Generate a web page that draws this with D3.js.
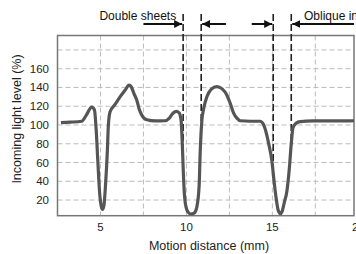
<!DOCTYPE html>
<html><head><meta charset="utf-8">
<script src="https://cdn.jsdelivr.net/npm/d3@7"></script>
<style>body{margin:0;background:#fff}svg{display:block}text{font-family:"Liberation Sans",Arial,sans-serif}</style>
</head><body><svg id="c" width="356" height="254"></svg>
<script>
// Data
const distance = [2.70,3.23,3.91,4.16,4.49,4.65,4.75,4.85,4.95,5.05,5.12,5.2,5.3,5.4,5.46,5.56,5.85,6.14,6.43,6.66,6.78,6.96,7.11,7.25,7.40,7.7,8.18,8.76,8.99,9.17,9.41,9.58,9.69,9.75,9.81,9.87,9.95,10.1,10.27,10.45,10.6,10.74,10.8,10.9,11.0,11.19,11.44,11.77,12.08,12.35,12.55,12.74,12.95,13.13,13.71,14.29,14.47,14.68,14.81,14.97,15.1,15.22,15.34,15.46,15.57,15.69,15.85,15.98,16.1,16.2,16.39,16.62,17.38,19.75];
const lightLevel = [102.5,103,104,110,119,116,95,60,28,13,10,14,38,72,100,114,122,130,137,142.5,141,133,126.7,117,110.7,105.5,104.3,104.5,107,111.5,114.5,113,105,85,55,30,15,7,5,6,12,35,70,105,117,130,138,141,138.5,132,123,113,107,104.5,104,104,101,89,78,62,40,22,9,5.5,8,17,30,52,80,97,102,103.5,104.3,104.5];
const markers = [9.81, 10.86, 15.05, 16.1];
const arrows = [[7.5,9.81],[12.3,10.86],[13.8,15.05],[19.75,16.1]];
const xTicks = [5,10,15,20];
const xGrid = [5,7.5,10,12.5,15,17.5];
const yTicks = [20,40,60,80,100,120,140,160];
const yGrid = [20,40,60,80,100,120,140,160,180];
const labels = {x:"Motion distance (mm)", y:"Incoming light level (%)", a1:"Double sheets", a2:"Oblique insertion"};

const L=57.5,R=354,T=35.5,B=215.7;
const x = d3.scaleLinear().domain([2.5,19.75]).range([L,R]);
const y = d3.scaleLinear().domain([3.3,195.4]).range([B,T]);
const svg = d3.select("#c");

// curve value at a distance (linear interpolation of the data)
const valueAt = m => {
  const i = d3.bisectLeft(distance, m);
  if (i <= 0) return lightLevel[0];
  if (i >= distance.length) return lightLevel[lightLevel.length-1];
  const t = (m - distance[i-1])/(distance[i]-distance[i-1]);
  return lightLevel[i-1] + t*(lightLevel[i]-lightLevel[i-1]);
};

svg.append("defs").append("clipPath").attr("id","clip").append("rect")
  .attr("x",L).attr("y",T).attr("width",R-L).attr("height",B-T);
const mk = svg.select("defs").append("marker").attr("id","ah")
  .attr("viewBox","0 0 10 10").attr("refX",10).attr("refY",5)
  .attr("markerWidth",4).attr("markerHeight",4).attr("orient","auto-start-reverse")
  .attr("markerUnits","strokeWidth");
mk.append("path").attr("d","M0,0L10,5L0,10Z").attr("fill","#111");

// grid
svg.append("g").selectAll("line").data(yGrid).join("line")
  .attr("x1",L).attr("x2",R).attr("y1",d=>y(d)).attr("y2",d=>y(d))
  .attr("stroke","#bbb").attr("stroke-width",1).attr("stroke-dasharray","5,3");
svg.append("g").selectAll("line").data(xGrid).join("line")
  .attr("y1",T).attr("y2",B).attr("x1",d=>x(d)).attr("x2",d=>x(d))
  .attr("stroke","#bbb").attr("stroke-width",1).attr("stroke-dasharray","5,3");

// frame
svg.append("rect").attr("x",L).attr("y",T).attr("width",R-L).attr("height",B-T)
  .attr("fill","none").attr("stroke","#777").attr("stroke-width",1.5);

// markers (down to where they meet the curve)
svg.append("g").selectAll("line").data(markers).join("line")
  .attr("x1",d=>x(d)).attr("x2",d=>x(d)).attr("y1",14).attr("y2",d=>y(valueAt(d)))
  .attr("stroke","#222").attr("stroke-width",1.6).attr("stroke-dasharray","7,3");

// arrows
svg.append("g").selectAll("line").data(arrows).join("line")
  .attr("x1",d=>x(d[0])).attr("x2",d=>x(d[1])-(d[1]>d[0]?1:-1)).attr("y1",24).attr("y2",24)
  .attr("stroke","#111").attr("stroke-width",2).attr("marker-end","url(#ah)");

// curve
svg.append("path").datum(distance.map((d,i)=>[d,lightLevel[i]]))
  .attr("clip-path","url(#clip)")
  .attr("d",d3.line().x(d=>x(d[0])).y(d=>y(d[1])).curve(d3.curveMonotoneX))
  .attr("fill","none").attr("stroke","#555").attr("stroke-width",3.2).attr("stroke-linejoin","round");

// tick labels
svg.append("g").selectAll("text").data(yTicks).join("text")
  .attr("x",L-8.5).attr("y",d=>y(d)).attr("dy","0.35em").attr("text-anchor","end")
  .attr("font-size",11.5).attr("fill","#222").text(d=>d);
svg.append("g").selectAll("text").data(xTicks).join("text")
  .attr("x",d=>x(d)).attr("y",231).attr("text-anchor","middle")
  .attr("font-size",11.5).attr("fill","#222").text(d=>d);

// titles
svg.append("text").attr("x",209).attr("y",249.5).attr("text-anchor","middle")
  .attr("font-size",12.5).attr("fill","#222").text(labels.x);
svg.append("text").attr("transform","translate(21,119) rotate(-90)").attr("text-anchor","middle")
  .attr("font-size",12.5).attr("fill","#222").text(labels.y);
svg.append("text").attr("x",x(9.81)-7).attr("y",20).attr("text-anchor","end")
  .attr("font-size",12).attr("fill","#111").text(labels.a1);
svg.append("text").attr("x",304).attr("y",20)
  .attr("font-size",12).attr("fill","#111").text(labels.a2);
</script></body></html>
